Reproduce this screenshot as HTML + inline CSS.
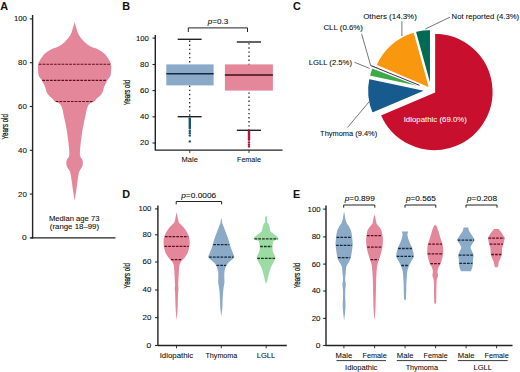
<!DOCTYPE html>
<html><head><meta charset="utf-8"><style>
html,body{margin:0;padding:0;background:#fff;width:520px;height:372px;overflow:hidden}
svg{display:block}
text{font-family:"Liberation Sans",sans-serif}
</style></head><body>
<svg width="520" height="372" viewBox="0 0 520 372">
<text x="0.30" y="10.30" font-size="10.8" text-anchor="start" fill="#111" stroke="#111" stroke-width="0.07" font-weight="bold" >A</text>
<text x="122.30" y="10.30" font-size="10.8" text-anchor="start" fill="#111" stroke="#111" stroke-width="0.07" font-weight="bold" >B</text>
<text x="292.90" y="10.30" font-size="10.8" text-anchor="start" fill="#111" stroke="#111" stroke-width="0.07" font-weight="bold" >C</text>
<text x="122.30" y="197.50" font-size="10.8" text-anchor="start" fill="#111" stroke="#111" stroke-width="0.07" font-weight="bold" >D</text>
<text x="292.90" y="197.60" font-size="10.8" text-anchor="start" fill="#111" stroke="#111" stroke-width="0.07" font-weight="bold" >E</text>
<line x1="32.6" y1="15" x2="32.6" y2="238.6" stroke="#222" stroke-width="1.4" />
<line x1="29.8" y1="18.900000000000006" x2="32.6" y2="18.900000000000006" stroke="#222" stroke-width="1.1" />
<text x="13.90" y="21.30" font-size="7.4" text-anchor="start" fill="#0a0a0a" stroke="#0a0a0a" stroke-width="0.07" font-weight="normal" textLength="12.90" lengthAdjust="spacingAndGlyphs" >100</text>
<line x1="29.8" y1="62.70000000000002" x2="32.6" y2="62.70000000000002" stroke="#222" stroke-width="1.1" />
<text x="18.00" y="65.10" font-size="7.4" text-anchor="start" fill="#0a0a0a" stroke="#0a0a0a" stroke-width="0.07" font-weight="normal" textLength="8.80" lengthAdjust="spacingAndGlyphs" >80</text>
<line x1="29.8" y1="106.5" x2="32.6" y2="106.5" stroke="#222" stroke-width="1.1" />
<text x="18.00" y="108.90" font-size="7.4" text-anchor="start" fill="#0a0a0a" stroke="#0a0a0a" stroke-width="0.07" font-weight="normal" textLength="8.80" lengthAdjust="spacingAndGlyphs" >60</text>
<line x1="29.8" y1="150.3" x2="32.6" y2="150.3" stroke="#222" stroke-width="1.1" />
<text x="18.00" y="152.70" font-size="7.4" text-anchor="start" fill="#0a0a0a" stroke="#0a0a0a" stroke-width="0.07" font-weight="normal" textLength="8.80" lengthAdjust="spacingAndGlyphs" >40</text>
<line x1="29.8" y1="194.10000000000002" x2="32.6" y2="194.10000000000002" stroke="#222" stroke-width="1.1" />
<text x="18.00" y="196.50" font-size="7.4" text-anchor="start" fill="#0a0a0a" stroke="#0a0a0a" stroke-width="0.07" font-weight="normal" textLength="8.80" lengthAdjust="spacingAndGlyphs" >20</text>
<line x1="29.8" y1="237.9" x2="32.6" y2="237.9" stroke="#222" stroke-width="1.1" />
<text x="22.10" y="240.30" font-size="7.4" text-anchor="start" fill="#0a0a0a" stroke="#0a0a0a" stroke-width="0.07" font-weight="normal" textLength="4.70" lengthAdjust="spacingAndGlyphs" >0</text>
<line x1="30.5" y1="237.9" x2="115.5" y2="237.9" stroke="#222" stroke-width="1.4" />
<text x="0" y="0" font-size="8.4" text-anchor="middle" fill="#0a0a0a" stroke="#0a0a0a" stroke-width="0.2" textLength="25.4" lengthAdjust="spacingAndGlyphs" transform="translate(8.0,126.8) rotate(-90)">Years old</text>
<path d="M74.60,21.80 L74.69,22.16 L74.82,22.67 L74.97,23.26 L75.14,23.89 L75.30,24.50 L75.47,25.11 L75.66,25.74 L75.84,26.39 L76.03,27.02 L76.20,27.60 L76.35,28.12 L76.49,28.61 L76.62,29.07 L76.76,29.53 L76.90,30.00 L77.05,30.48 L77.19,30.95 L77.35,31.43 L77.51,31.91 L77.70,32.40 L77.91,32.91 L78.14,33.44 L78.38,33.98 L78.63,34.50 L78.90,35.00 L79.18,35.46 L79.46,35.90 L79.76,36.32 L80.08,36.75 L80.40,37.20 L80.73,37.67 L81.07,38.15 L81.43,38.63 L81.80,39.12 L82.20,39.60 L82.62,40.08 L83.05,40.56 L83.51,41.03 L83.99,41.51 L84.50,42.00 L85.04,42.50 L85.61,43.00 L86.20,43.51 L86.83,44.01 L87.50,44.50 L88.22,44.99 L88.98,45.47 L89.78,45.95 L90.59,46.39 L91.40,46.80 L92.20,47.13 L93.00,47.39 L93.81,47.64 L94.67,47.92 L95.60,48.30 L96.64,48.79 L97.78,49.35 L98.95,49.97 L100.08,50.59 L101.10,51.20 L102.01,51.79 L102.85,52.39 L103.63,52.99 L104.35,53.59 L105.00,54.20 L105.57,54.81 L106.04,55.43 L106.47,56.06 L106.88,56.68 L107.30,57.30 L107.74,57.91 L108.18,58.51 L108.61,59.11 L109.02,59.74 L109.40,60.40 L109.77,61.09 L110.14,61.79 L110.48,62.53 L110.78,63.33 L111.00,64.20 L111.15,65.16 L111.23,66.21 L111.26,67.31 L111.25,68.44 L111.20,69.60 L111.14,70.82 L111.05,72.11 L110.91,73.42 L110.70,74.67 L110.40,75.80 L109.98,76.74 L109.45,77.55 L108.86,78.31 L108.23,79.12 L107.60,80.10 L106.93,81.29 L106.20,82.63 L105.46,84.04 L104.77,85.42 L104.20,86.70 L103.79,87.88 L103.50,89.01 L103.25,90.09 L102.98,91.12 L102.60,92.10 L102.09,93.03 L101.50,93.91 L100.87,94.73 L100.22,95.50 L99.60,96.20 L98.99,96.82 L98.36,97.35 L97.74,97.84 L97.14,98.31 L96.60,98.80 L96.18,99.30 L95.85,99.79 L95.53,100.28 L95.12,100.78 L94.50,101.30 L93.58,101.81 L92.43,102.31 L91.20,102.84 L90.04,103.45 L89.10,104.20 L88.41,105.12 L87.86,106.18 L87.42,107.32 L87.05,108.48 L86.70,109.60 L86.42,110.56 L86.25,111.39 L86.10,112.28 L85.91,113.42 L85.60,115.00 L85.14,117.13 L84.56,119.68 L83.94,122.48 L83.34,125.38 L82.80,128.20 L82.33,131.05 L81.88,134.05 L81.48,137.03 L81.11,139.83 L80.80,142.30 L80.55,144.39 L80.35,146.20 L80.19,147.82 L80.08,149.29 L80.00,150.70 L79.94,152.02 L79.90,153.20 L79.91,154.29 L80.00,155.31 L80.20,156.30 L80.58,157.22 L81.13,158.05 L81.72,158.85 L82.25,159.68 L82.60,160.60 L82.77,161.64 L82.85,162.75 L82.82,163.90 L82.67,165.06 L82.40,166.20 L81.93,167.25 L81.27,168.23 L80.52,169.25 L79.80,170.40 L79.20,171.80 L78.74,173.53 L78.35,175.52 L78.00,177.64 L77.69,179.75 L77.40,181.70 L77.14,183.44 L76.94,185.07 L76.75,186.67 L76.55,188.32 L76.30,190.10 L75.97,192.22 L75.58,194.62 L75.19,196.99 L74.84,199.05 L74.60,200.50 L74.60,200.50 L74.36,199.05 L74.01,196.99 L73.62,194.62 L73.23,192.22 L72.90,190.10 L72.65,188.32 L72.45,186.67 L72.26,185.07 L72.06,183.44 L71.80,181.70 L71.51,179.75 L71.20,177.64 L70.85,175.52 L70.46,173.53 L70.00,171.80 L69.40,170.40 L68.68,169.25 L67.93,168.23 L67.27,167.25 L66.80,166.20 L66.53,165.06 L66.38,163.90 L66.35,162.75 L66.43,161.64 L66.60,160.60 L66.95,159.68 L67.48,158.85 L68.07,158.05 L68.62,157.22 L69.00,156.30 L69.20,155.31 L69.29,154.29 L69.30,153.20 L69.26,152.02 L69.20,150.70 L69.12,149.29 L69.01,147.82 L68.85,146.20 L68.65,144.39 L68.40,142.30 L68.09,139.83 L67.72,137.03 L67.32,134.05 L66.87,131.05 L66.40,128.20 L65.86,125.38 L65.26,122.48 L64.64,119.68 L64.06,117.13 L63.60,115.00 L63.29,113.42 L63.10,112.28 L62.95,111.39 L62.78,110.56 L62.50,109.60 L62.15,108.48 L61.78,107.32 L61.34,106.18 L60.79,105.12 L60.10,104.20 L59.16,103.45 L58.00,102.84 L56.77,102.31 L55.62,101.81 L54.70,101.30 L54.08,100.78 L53.67,100.28 L53.35,99.79 L53.02,99.30 L52.60,98.80 L52.06,98.31 L51.46,97.84 L50.84,97.35 L50.21,96.82 L49.60,96.20 L48.98,95.50 L48.33,94.73 L47.70,93.91 L47.11,93.03 L46.60,92.10 L46.22,91.12 L45.95,90.09 L45.70,89.01 L45.41,87.88 L45.00,86.70 L44.43,85.42 L43.74,84.04 L43.00,82.63 L42.27,81.29 L41.60,80.10 L40.97,79.12 L40.34,78.31 L39.75,77.55 L39.22,76.74 L38.80,75.80 L38.50,74.67 L38.29,73.42 L38.15,72.11 L38.06,70.82 L38.00,69.60 L37.95,68.44 L37.94,67.31 L37.97,66.21 L38.05,65.16 L38.20,64.20 L38.42,63.33 L38.72,62.53 L39.06,61.79 L39.43,61.09 L39.80,60.40 L40.18,59.74 L40.59,59.11 L41.02,58.51 L41.46,57.91 L41.90,57.30 L42.32,56.68 L42.73,56.06 L43.16,55.43 L43.63,54.81 L44.20,54.20 L44.85,53.59 L45.57,52.99 L46.35,52.39 L47.19,51.79 L48.10,51.20 L49.12,50.59 L50.25,49.97 L51.42,49.35 L52.56,48.79 L53.60,48.30 L54.53,47.92 L55.39,47.64 L56.20,47.39 L57.00,47.13 L57.80,46.80 L58.61,46.39 L59.42,45.95 L60.22,45.47 L60.98,44.99 L61.70,44.50 L62.37,44.01 L63.00,43.51 L63.59,43.00 L64.16,42.50 L64.70,42.00 L65.21,41.51 L65.69,41.03 L66.15,40.56 L66.58,40.08 L67.00,39.60 L67.40,39.12 L67.77,38.63 L68.13,38.15 L68.47,37.67 L68.80,37.20 L69.12,36.75 L69.44,36.32 L69.74,35.90 L70.02,35.46 L70.30,35.00 L70.57,34.50 L70.82,33.98 L71.06,33.44 L71.29,32.91 L71.50,32.40 L71.69,31.91 L71.85,31.43 L72.01,30.95 L72.15,30.48 L72.30,30.00 L72.44,29.53 L72.58,29.07 L72.71,28.61 L72.85,28.12 L73.00,27.60 L73.17,27.02 L73.36,26.39 L73.54,25.74 L73.73,25.11 L73.90,24.50 L74.06,23.89 L74.23,23.26 L74.38,22.67 L74.51,22.16 L74.60,21.80 Z" fill="#e4879a"/>
<line x1="38.80" y1="64.20" x2="110.40" y2="64.20" stroke="#5a0e20" stroke-width="1.1" stroke-dasharray="2.7,1.1"/>
<line x1="42.35" y1="80.40" x2="106.85" y2="80.40" stroke="#5a0e20" stroke-width="1.1" stroke-dasharray="2.7,1.1"/>
<line x1="55.67" y1="101.50" x2="93.53" y2="101.50" stroke="#5a0e20" stroke-width="1.1" stroke-dasharray="2.7,1.1"/>
<text x="48.90" y="221.00" font-size="7.6" text-anchor="start" fill="#0a0a0a" stroke="#0a0a0a" stroke-width="0.07" font-weight="normal" textLength="50.60" lengthAdjust="spacingAndGlyphs" >Median age 73</text>
<text x="49.80" y="229.40" font-size="7.6" text-anchor="start" fill="#0a0a0a" stroke="#0a0a0a" stroke-width="0.07" font-weight="normal" textLength="49.30" lengthAdjust="spacingAndGlyphs" >(range 18–99)</text>
<line x1="155.3" y1="35" x2="155.3" y2="150.6" stroke="#222" stroke-width="1.4" />
<line x1="152.5" y1="38.1" x2="155.3" y2="38.1" stroke="#222" stroke-width="1.1" />
<text x="135.90" y="40.50" font-size="6.9" text-anchor="start" fill="#0a0a0a" stroke="#0a0a0a" stroke-width="0.07" font-weight="normal" textLength="12.90" lengthAdjust="spacingAndGlyphs" >100</text>
<line x1="152.5" y1="64.5" x2="155.3" y2="64.5" stroke="#222" stroke-width="1.1" />
<text x="140.00" y="66.90" font-size="6.9" text-anchor="start" fill="#0a0a0a" stroke="#0a0a0a" stroke-width="0.07" font-weight="normal" textLength="8.80" lengthAdjust="spacingAndGlyphs" >80</text>
<line x1="152.5" y1="90.6" x2="155.3" y2="90.6" stroke="#222" stroke-width="1.1" />
<text x="140.00" y="93.00" font-size="6.9" text-anchor="start" fill="#0a0a0a" stroke="#0a0a0a" stroke-width="0.07" font-weight="normal" textLength="8.80" lengthAdjust="spacingAndGlyphs" >60</text>
<line x1="152.5" y1="116.8" x2="155.3" y2="116.8" stroke="#222" stroke-width="1.1" />
<text x="140.00" y="119.20" font-size="6.9" text-anchor="start" fill="#0a0a0a" stroke="#0a0a0a" stroke-width="0.07" font-weight="normal" textLength="8.80" lengthAdjust="spacingAndGlyphs" >40</text>
<line x1="152.5" y1="143" x2="155.3" y2="143" stroke="#222" stroke-width="1.1" />
<text x="140.00" y="145.40" font-size="6.9" text-anchor="start" fill="#0a0a0a" stroke="#0a0a0a" stroke-width="0.07" font-weight="normal" textLength="8.80" lengthAdjust="spacingAndGlyphs" >20</text>
<line x1="155.3" y1="150.2" x2="282.5" y2="150.2" stroke="#222" stroke-width="1.3" />
<text x="0" y="0" font-size="8.4" text-anchor="middle" fill="#0a0a0a" stroke="#0a0a0a" stroke-width="0.2" textLength="25.4" lengthAdjust="spacingAndGlyphs" transform="translate(129.8,92.5) rotate(-90)">Years old</text>
<line x1="189.8" y1="150.2" x2="189.8" y2="153" stroke="#222" stroke-width="0.9" />
<text x="181.60" y="162.30" font-size="8.0" text-anchor="start" fill="#0a0a0a" stroke="#0a0a0a" stroke-width="0.07" font-weight="normal" textLength="16.20" lengthAdjust="spacingAndGlyphs" >Male</text>
<line x1="249" y1="150.2" x2="249" y2="153" stroke="#222" stroke-width="0.9" />
<text x="237.00" y="162.30" font-size="8.0" text-anchor="start" fill="#0a0a0a" stroke="#0a0a0a" stroke-width="0.07" font-weight="normal" textLength="23.90" lengthAdjust="spacingAndGlyphs" >Female</text>
<line x1="189.7" y1="40.5" x2="189.7" y2="116.7" stroke="#1a1a1a" stroke-width="1.25" stroke-dasharray="1.4,2.7"/>
<rect x="166.3" y="64.4" width="47.3" height="21" fill="#8aaac8"/>
<line x1="166.3" y1="73.7" x2="213.6" y2="73.7" stroke="#13283f" stroke-width="1.4" />
<line x1="177.7" y1="39.3" x2="201.6" y2="39.3" stroke="#222" stroke-width="1.4" />
<line x1="177.7" y1="116.7" x2="201.6" y2="116.7" stroke="#222" stroke-width="1.4" />
<rect x="188.6" y="117.2" width="2.4" height="12.3" rx="1.1" fill="#1c4f82"/>
<circle cx="189.8" cy="131" r="1.2" fill="#1c4f82"/>
<circle cx="189.8" cy="133.3" r="1.2" fill="#1c4f82"/>
<circle cx="189.8" cy="135.6" r="1.2" fill="#1c4f82"/>
<circle cx="189.8" cy="141.4" r="1.2" fill="#1c4f82"/>
<line x1="249" y1="43.2" x2="249" y2="130.3" stroke="#1a1a1a" stroke-width="1.25" stroke-dasharray="1.4,2.7"/>
<rect x="224.9" y="64.4" width="48" height="26.2" fill="#e4879a"/>
<line x1="224.9" y1="75" x2="272.9" y2="75" stroke="#3a1016" stroke-width="1.4" />
<line x1="236.8" y1="42" x2="261" y2="42" stroke="#222" stroke-width="1.4" />
<line x1="236.8" y1="130.3" x2="261" y2="130.3" stroke="#222" stroke-width="1.4" />
<rect x="247.8" y="130.3" width="2.4" height="10.6" rx="1.1" fill="#b8123c"/>
<circle cx="249" cy="142.4" r="1.2" fill="#b8123c"/>
<circle cx="249" cy="144.6" r="1.2" fill="#b8123c"/>
<circle cx="249" cy="146.4" r="1.2" fill="#b8123c"/>
<path d="M188.3,32 V27.9 H247.5 V32" fill="none" stroke="#222" stroke-width="1"/>
<text x="207.80" y="23.80" font-size="7.0" text-anchor="start" fill="#0a0a0a" stroke="#0a0a0a" stroke-width="0.07" font-weight="normal" textLength="20.60" lengthAdjust="spacingAndGlyphs" ><tspan font-style="italic">p</tspan>=0.3</text>
<line x1="157.9" y1="205.4" x2="157.9" y2="346.1" stroke="#222" stroke-width="1.4" />
<line x1="155.1" y1="208.9" x2="157.9" y2="208.9" stroke="#222" stroke-width="1.1" />
<text x="138.40" y="211.30" font-size="6.9" text-anchor="start" fill="#0a0a0a" stroke="#0a0a0a" stroke-width="0.07" font-weight="normal" textLength="12.90" lengthAdjust="spacingAndGlyphs" >100</text>
<line x1="155.1" y1="234.8" x2="157.9" y2="234.8" stroke="#222" stroke-width="1.1" />
<text x="142.50" y="237.20" font-size="6.9" text-anchor="start" fill="#0a0a0a" stroke="#0a0a0a" stroke-width="0.07" font-weight="normal" textLength="8.80" lengthAdjust="spacingAndGlyphs" >80</text>
<line x1="155.1" y1="262" x2="157.9" y2="262" stroke="#222" stroke-width="1.1" />
<text x="142.50" y="264.40" font-size="6.9" text-anchor="start" fill="#0a0a0a" stroke="#0a0a0a" stroke-width="0.07" font-weight="normal" textLength="8.80" lengthAdjust="spacingAndGlyphs" >60</text>
<line x1="155.1" y1="290" x2="157.9" y2="290" stroke="#222" stroke-width="1.1" />
<text x="142.50" y="292.40" font-size="6.9" text-anchor="start" fill="#0a0a0a" stroke="#0a0a0a" stroke-width="0.07" font-weight="normal" textLength="8.80" lengthAdjust="spacingAndGlyphs" >40</text>
<line x1="155.1" y1="317.6" x2="157.9" y2="317.6" stroke="#222" stroke-width="1.1" />
<text x="142.50" y="320.00" font-size="6.9" text-anchor="start" fill="#0a0a0a" stroke="#0a0a0a" stroke-width="0.07" font-weight="normal" textLength="8.80" lengthAdjust="spacingAndGlyphs" >20</text>
<line x1="155.1" y1="345.5" x2="157.9" y2="345.5" stroke="#222" stroke-width="1.1" />
<text x="146.60" y="347.90" font-size="6.9" text-anchor="start" fill="#0a0a0a" stroke="#0a0a0a" stroke-width="0.07" font-weight="normal" textLength="4.70" lengthAdjust="spacingAndGlyphs" >0</text>
<line x1="157.9" y1="345.5" x2="286.8" y2="345.5" stroke="#222" stroke-width="1.3" />
<text x="0" y="0" font-size="8.4" text-anchor="middle" fill="#0a0a0a" stroke="#0a0a0a" stroke-width="0.2" textLength="25.4" lengthAdjust="spacingAndGlyphs" transform="translate(129.6,275.7) rotate(-90)">Years old</text>
<line x1="176.5" y1="345.5" x2="176.5" y2="348.3" stroke="#222" stroke-width="0.9" />
<text x="159.70" y="357.60" font-size="8.0" text-anchor="start" fill="#0a0a0a" stroke="#0a0a0a" stroke-width="0.07" font-weight="normal" textLength="33.60" lengthAdjust="spacingAndGlyphs" >Idiopathic</text>
<line x1="221.3" y1="345.5" x2="221.3" y2="348.3" stroke="#222" stroke-width="0.9" />
<text x="205.45" y="357.60" font-size="8.0" text-anchor="start" fill="#0a0a0a" stroke="#0a0a0a" stroke-width="0.07" font-weight="normal" textLength="31.85" lengthAdjust="spacingAndGlyphs" >Thymoma</text>
<line x1="266.2" y1="345.5" x2="266.2" y2="348.3" stroke="#222" stroke-width="0.9" />
<text x="256.70" y="357.60" font-size="8.0" text-anchor="start" fill="#0a0a0a" stroke="#0a0a0a" stroke-width="0.07" font-weight="normal" textLength="18.60" lengthAdjust="spacingAndGlyphs" >LGLL</text>
<path d="M176.2,204.4 V201.5 H221.6 V204.4" fill="none" stroke="#222" stroke-width="1"/>
<text x="181.20" y="197.60" font-size="7.0" text-anchor="start" fill="#0a0a0a" stroke="#0a0a0a" stroke-width="0.07" font-weight="normal" textLength="35.00" lengthAdjust="spacingAndGlyphs" ><tspan font-style="italic">p</tspan>=0.0006</text>
<path d="M176.60,212.40 L176.65,212.61 L176.73,212.90 L176.82,213.25 L176.91,213.62 L177.00,214.00 L177.08,214.39 L177.16,214.81 L177.24,215.25 L177.32,215.68 L177.40,216.10 L177.48,216.49 L177.56,216.86 L177.64,217.24 L177.72,217.61 L177.80,218.00 L177.87,218.40 L177.94,218.81 L178.01,219.23 L178.09,219.66 L178.20,220.10 L178.32,220.57 L178.46,221.08 L178.62,221.58 L178.80,222.07 L179.00,222.50 L179.22,222.86 L179.47,223.16 L179.74,223.44 L180.04,223.74 L180.40,224.10 L180.83,224.53 L181.32,225.00 L181.85,225.49 L182.37,226.00 L182.85,226.50 L183.29,227.00 L183.72,227.50 L184.13,228.00 L184.53,228.50 L184.90,229.00 L185.26,229.49 L185.59,229.97 L185.91,230.44 L186.21,230.92 L186.50,231.40 L186.77,231.88 L187.02,232.36 L187.25,232.84 L187.48,233.32 L187.70,233.80 L187.91,234.25 L188.12,234.67 L188.32,235.10 L188.51,235.60 L188.70,236.20 L188.90,236.96 L189.11,237.84 L189.31,238.77 L189.48,239.68 L189.60,240.50 L189.66,241.21 L189.68,241.86 L189.67,242.47 L189.64,243.08 L189.60,243.70 L189.55,244.34 L189.48,244.98 L189.40,245.61 L189.31,246.25 L189.20,246.90 L189.09,247.56 L188.96,248.22 L188.82,248.88 L188.67,249.54 L188.50,250.20 L188.31,250.86 L188.11,251.52 L187.90,252.17 L187.66,252.80 L187.40,253.40 L187.11,253.96 L186.80,254.50 L186.46,255.02 L186.13,255.52 L185.80,256.00 L185.48,256.47 L185.17,256.93 L184.85,257.37 L184.53,257.79 L184.20,258.20 L183.85,258.59 L183.48,258.96 L183.10,259.32 L182.74,259.67 L182.40,260.00 L182.09,260.30 L181.80,260.57 L181.53,260.84 L181.26,261.14 L181.00,261.50 L180.74,261.94 L180.47,262.44 L180.22,262.97 L179.99,263.50 L179.80,264.00 L179.65,264.43 L179.54,264.82 L179.46,265.22 L179.38,265.69 L179.30,266.30 L179.21,267.08 L179.13,267.99 L179.05,268.98 L178.97,270.00 L178.90,271.00 L178.83,271.98 L178.77,272.98 L178.71,273.99 L178.65,275.00 L178.60,276.00 L178.55,277.01 L178.51,278.02 L178.48,279.03 L178.44,280.03 L178.40,281.00 L178.35,281.97 L178.30,282.95 L178.24,283.90 L178.21,284.80 L178.20,285.60 L178.24,286.26 L178.32,286.81 L178.41,287.31 L178.48,287.84 L178.50,288.50 L178.46,289.23 L178.39,289.98 L178.29,290.81 L178.18,291.80 L178.10,293.00 L178.03,294.49 L177.97,296.24 L177.92,298.12 L177.86,300.01 L177.80,301.80 L177.75,303.44 L177.71,305.01 L177.66,306.58 L177.60,308.22 L177.50,310.00 L177.34,312.12 L177.14,314.54 L176.92,316.95 L176.73,319.04 L176.60,320.50 L176.60,320.50 L176.47,319.04 L176.28,316.95 L176.06,314.54 L175.86,312.12 L175.70,310.00 L175.60,308.22 L175.54,306.58 L175.49,305.01 L175.45,303.44 L175.40,301.80 L175.34,300.01 L175.28,298.12 L175.23,296.24 L175.17,294.49 L175.10,293.00 L175.02,291.80 L174.91,290.81 L174.81,289.98 L174.74,289.23 L174.70,288.50 L174.72,287.84 L174.79,287.31 L174.88,286.81 L174.96,286.26 L175.00,285.60 L174.99,284.80 L174.96,283.90 L174.90,282.95 L174.85,281.97 L174.80,281.00 L174.76,280.03 L174.72,279.03 L174.69,278.02 L174.65,277.01 L174.60,276.00 L174.55,275.00 L174.49,273.99 L174.43,272.98 L174.37,271.98 L174.30,271.00 L174.23,270.00 L174.15,268.98 L174.07,267.99 L173.99,267.08 L173.90,266.30 L173.82,265.69 L173.74,265.22 L173.66,264.82 L173.55,264.43 L173.40,264.00 L173.21,263.50 L172.98,262.97 L172.73,262.44 L172.46,261.94 L172.20,261.50 L171.94,261.14 L171.67,260.84 L171.40,260.57 L171.11,260.30 L170.80,260.00 L170.46,259.67 L170.10,259.32 L169.72,258.96 L169.35,258.59 L169.00,258.20 L168.67,257.79 L168.35,257.37 L168.03,256.93 L167.72,256.47 L167.40,256.00 L167.07,255.52 L166.74,255.02 L166.40,254.50 L166.09,253.96 L165.80,253.40 L165.54,252.80 L165.30,252.17 L165.09,251.52 L164.89,250.86 L164.70,250.20 L164.53,249.54 L164.38,248.88 L164.24,248.22 L164.11,247.56 L164.00,246.90 L163.89,246.25 L163.80,245.61 L163.72,244.98 L163.65,244.34 L163.60,243.70 L163.56,243.08 L163.53,242.47 L163.52,241.86 L163.54,241.21 L163.60,240.50 L163.72,239.68 L163.89,238.77 L164.09,237.84 L164.30,236.96 L164.50,236.20 L164.69,235.60 L164.88,235.10 L165.08,234.67 L165.29,234.25 L165.50,233.80 L165.72,233.32 L165.95,232.84 L166.18,232.36 L166.43,231.88 L166.70,231.40 L166.99,230.92 L167.29,230.44 L167.61,229.97 L167.94,229.49 L168.30,229.00 L168.67,228.50 L169.07,228.00 L169.48,227.50 L169.91,227.00 L170.35,226.50 L170.83,226.00 L171.35,225.49 L171.88,225.00 L172.37,224.53 L172.80,224.10 L173.16,223.74 L173.46,223.44 L173.73,223.16 L173.98,222.86 L174.20,222.50 L174.40,222.07 L174.58,221.58 L174.74,221.08 L174.88,220.57 L175.00,220.10 L175.11,219.66 L175.19,219.23 L175.26,218.81 L175.33,218.40 L175.40,218.00 L175.48,217.61 L175.56,217.24 L175.64,216.86 L175.72,216.49 L175.80,216.10 L175.88,215.68 L175.96,215.25 L176.04,214.81 L176.12,214.39 L176.20,214.00 L176.29,213.62 L176.38,213.25 L176.47,212.90 L176.55,212.61 L176.60,212.40 Z" fill="#e4879a"/>
<line x1="164.90" y1="236.70" x2="188.30" y2="236.70" stroke="#5a0e20" stroke-width="1.3" stroke-dasharray="2.7,1.1"/>
<line x1="164.44" y1="246.40" x2="188.76" y2="246.40" stroke="#5a0e20" stroke-width="1.3" stroke-dasharray="2.7,1.1"/>
<line x1="170.90" y1="259.60" x2="182.30" y2="259.60" stroke="#5a0e20" stroke-width="1.3" stroke-dasharray="2.7,1.1"/>
<path d="M221.30,218.30 L221.37,218.53 L221.48,218.84 L221.60,219.22 L221.71,219.61 L221.80,220.00 L221.86,220.39 L221.89,220.79 L221.92,221.21 L221.95,221.61 L222.00,222.00 L222.06,222.35 L222.12,222.67 L222.19,222.98 L222.28,223.32 L222.40,223.70 L222.55,224.11 L222.73,224.54 L222.94,225.00 L223.16,225.51 L223.40,226.10 L223.67,226.78 L223.96,227.54 L224.27,228.35 L224.59,229.18 L224.90,230.00 L225.22,230.83 L225.54,231.68 L225.87,232.53 L226.19,233.38 L226.50,234.20 L226.80,235.00 L227.09,235.79 L227.38,236.56 L227.65,237.30 L227.90,238.00 L228.13,238.65 L228.34,239.27 L228.54,239.85 L228.73,240.43 L228.90,241.00 L229.05,241.57 L229.19,242.12 L229.31,242.66 L229.45,243.22 L229.60,243.80 L229.78,244.41 L229.97,245.05 L230.17,245.70 L230.38,246.35 L230.60,247.00 L230.83,247.64 L231.07,248.28 L231.31,248.92 L231.56,249.56 L231.80,250.20 L232.04,250.84 L232.28,251.48 L232.51,252.12 L232.75,252.76 L233.00,253.40 L233.29,254.06 L233.63,254.74 L233.96,255.41 L234.20,256.04 L234.30,256.60 L234.25,257.06 L234.10,257.44 L233.85,257.79 L233.51,258.16 L233.10,258.60 L232.56,259.13 L231.89,259.71 L231.16,260.33 L230.44,260.93 L229.80,261.50 L229.23,262.03 L228.68,262.54 L228.17,263.03 L227.70,263.52 L227.30,264.00 L226.98,264.46 L226.73,264.89 L226.52,265.32 L226.32,265.79 L226.10,266.30 L225.85,266.88 L225.59,267.51 L225.33,268.17 L225.10,268.84 L224.90,269.50 L224.75,270.13 L224.63,270.75 L224.54,271.37 L224.46,272.05 L224.40,272.80 L224.35,273.65 L224.32,274.57 L224.31,275.54 L224.30,276.52 L224.30,277.50 L224.32,278.47 L224.36,279.46 L224.41,280.45 L224.43,281.44 L224.40,282.40 L224.31,283.33 L224.17,284.24 L224.01,285.14 L223.85,286.05 L223.70,287.00 L223.57,287.94 L223.45,288.87 L223.33,289.83 L223.21,290.89 L223.10,292.10 L222.99,293.50 L222.88,295.05 L222.78,296.70 L222.69,298.37 L222.60,300.00 L222.54,301.59 L222.50,303.17 L222.46,304.76 L222.40,306.37 L222.30,308.00 L222.13,309.80 L221.90,311.77 L221.66,313.69 L221.45,315.34 L221.30,316.50 L221.30,316.50 L221.15,315.34 L220.94,313.69 L220.70,311.77 L220.47,309.80 L220.30,308.00 L220.20,306.37 L220.14,304.76 L220.10,303.17 L220.06,301.59 L220.00,300.00 L219.91,298.37 L219.82,296.70 L219.72,295.05 L219.61,293.50 L219.50,292.10 L219.39,290.89 L219.27,289.83 L219.15,288.87 L219.03,287.94 L218.90,287.00 L218.75,286.05 L218.59,285.14 L218.43,284.24 L218.29,283.33 L218.20,282.40 L218.17,281.44 L218.19,280.45 L218.24,279.46 L218.28,278.47 L218.30,277.50 L218.30,276.52 L218.29,275.54 L218.28,274.57 L218.25,273.65 L218.20,272.80 L218.14,272.05 L218.06,271.37 L217.97,270.75 L217.85,270.13 L217.70,269.50 L217.50,268.84 L217.27,268.17 L217.01,267.51 L216.75,266.88 L216.50,266.30 L216.28,265.79 L216.08,265.32 L215.87,264.89 L215.62,264.46 L215.30,264.00 L214.90,263.52 L214.43,263.03 L213.92,262.54 L213.37,262.03 L212.80,261.50 L212.16,260.93 L211.44,260.33 L210.71,259.71 L210.04,259.13 L209.50,258.60 L209.09,258.16 L208.75,257.79 L208.50,257.44 L208.35,257.06 L208.30,256.60 L208.40,256.04 L208.64,255.41 L208.97,254.74 L209.31,254.06 L209.60,253.40 L209.85,252.76 L210.09,252.12 L210.32,251.48 L210.56,250.84 L210.80,250.20 L211.04,249.56 L211.29,248.92 L211.53,248.28 L211.77,247.64 L212.00,247.00 L212.22,246.35 L212.43,245.70 L212.63,245.05 L212.82,244.41 L213.00,243.80 L213.15,243.22 L213.29,242.66 L213.41,242.12 L213.55,241.57 L213.70,241.00 L213.87,240.43 L214.06,239.85 L214.26,239.27 L214.47,238.65 L214.70,238.00 L214.95,237.30 L215.22,236.56 L215.51,235.79 L215.80,235.00 L216.10,234.20 L216.41,233.38 L216.73,232.53 L217.06,231.68 L217.38,230.83 L217.70,230.00 L218.01,229.18 L218.33,228.35 L218.64,227.54 L218.93,226.78 L219.20,226.10 L219.44,225.51 L219.66,225.00 L219.87,224.54 L220.05,224.11 L220.20,223.70 L220.32,223.32 L220.41,222.98 L220.48,222.67 L220.54,222.35 L220.60,222.00 L220.65,221.61 L220.68,221.21 L220.71,220.79 L220.74,220.39 L220.80,220.00 L220.89,219.61 L221.00,219.22 L221.12,218.84 L221.23,218.53 L221.30,218.30 Z" fill="#8aaac8"/>
<line x1="213.22" y1="244.70" x2="229.38" y2="244.70" stroke="#14263a" stroke-width="1.3" stroke-dasharray="2.7,1.1"/>
<line x1="209.10" y1="257.10" x2="233.50" y2="257.10" stroke="#14263a" stroke-width="1.3" stroke-dasharray="2.7,1.1"/>
<line x1="216.48" y1="265.30" x2="226.12" y2="265.30" stroke="#14263a" stroke-width="1.3" stroke-dasharray="2.7,1.1"/>
<path d="M266.10,215.60 L266.22,215.78 L266.39,216.03 L266.58,216.33 L266.77,216.66 L266.90,217.00 L266.98,217.36 L267.03,217.76 L267.06,218.17 L267.08,218.59 L267.10,219.00 L267.11,219.41 L267.10,219.82 L267.10,220.23 L267.09,220.63 L267.10,221.00 L267.11,221.35 L267.13,221.69 L267.15,222.02 L267.21,222.32 L267.30,222.60 L267.45,222.83 L267.64,223.01 L267.86,223.19 L268.09,223.40 L268.30,223.70 L268.51,224.10 L268.72,224.57 L268.93,225.08 L269.13,225.60 L269.30,226.10 L269.44,226.58 L269.56,227.06 L269.66,227.54 L269.75,228.02 L269.85,228.50 L269.93,228.99 L269.99,229.50 L270.06,230.00 L270.15,230.47 L270.30,230.90 L270.50,231.27 L270.74,231.59 L271.02,231.89 L271.34,232.19 L271.70,232.50 L272.12,232.84 L272.61,233.18 L273.12,233.52 L273.63,233.86 L274.10,234.20 L274.53,234.53 L274.94,234.85 L275.33,235.16 L275.72,235.48 L276.10,235.80 L276.49,236.12 L276.90,236.45 L277.28,236.77 L277.63,237.09 L277.90,237.40 L278.12,237.70 L278.29,237.99 L278.41,238.28 L278.45,238.55 L278.40,238.80 L278.25,239.03 L278.02,239.23 L277.70,239.42 L277.33,239.61 L276.90,239.80 L276.36,239.99 L275.70,240.18 L275.01,240.36 L274.38,240.57 L273.90,240.80 L273.59,241.06 L273.40,241.33 L273.29,241.63 L273.20,241.95 L273.10,242.30 L272.99,242.69 L272.90,243.12 L272.83,243.56 L272.76,244.03 L272.70,244.50 L272.64,244.97 L272.59,245.45 L272.55,245.95 L272.52,246.46 L272.50,247.00 L272.49,247.58 L272.49,248.19 L272.50,248.81 L272.54,249.42 L272.60,250.00 L272.70,250.54 L272.82,251.06 L272.97,251.56 L273.13,252.04 L273.30,252.50 L273.48,252.93 L273.68,253.34 L273.89,253.72 L274.10,254.11 L274.30,254.50 L274.50,254.90 L274.70,255.31 L274.90,255.71 L275.07,256.11 L275.20,256.50 L275.30,256.87 L275.37,257.24 L275.42,257.60 L275.43,257.95 L275.40,258.30 L275.33,258.63 L275.21,258.94 L275.07,259.26 L274.89,259.60 L274.70,260.00 L274.49,260.43 L274.27,260.89 L274.02,261.39 L273.73,261.95 L273.40,262.60 L272.99,263.37 L272.51,264.24 L272.01,265.16 L271.52,266.10 L271.10,267.00 L270.74,267.87 L270.43,268.73 L270.14,269.58 L269.87,270.44 L269.60,271.30 L269.34,272.16 L269.09,273.02 L268.85,273.87 L268.62,274.73 L268.40,275.60 L268.19,276.48 L268.00,277.37 L267.81,278.26 L267.62,279.14 L267.40,280.00 L267.14,280.89 L266.84,281.82 L266.54,282.71 L266.28,283.46 L266.10,284.00 L266.10,284.00 L265.92,283.46 L265.66,282.71 L265.36,281.82 L265.06,280.89 L264.80,280.00 L264.58,279.14 L264.39,278.26 L264.20,277.37 L264.01,276.48 L263.80,275.60 L263.58,274.73 L263.35,273.87 L263.11,273.02 L262.86,272.16 L262.60,271.30 L262.33,270.44 L262.06,269.58 L261.77,268.73 L261.46,267.87 L261.10,267.00 L260.68,266.10 L260.19,265.16 L259.69,264.24 L259.21,263.37 L258.80,262.60 L258.47,261.95 L258.18,261.39 L257.93,260.89 L257.71,260.43 L257.50,260.00 L257.31,259.60 L257.13,259.26 L256.99,258.94 L256.87,258.63 L256.80,258.30 L256.77,257.95 L256.78,257.60 L256.83,257.24 L256.90,256.87 L257.00,256.50 L257.13,256.11 L257.30,255.71 L257.50,255.31 L257.70,254.90 L257.90,254.50 L258.10,254.11 L258.31,253.72 L258.52,253.34 L258.72,252.93 L258.90,252.50 L259.07,252.04 L259.23,251.56 L259.38,251.06 L259.50,250.54 L259.60,250.00 L259.66,249.42 L259.70,248.81 L259.71,248.19 L259.71,247.58 L259.70,247.00 L259.68,246.46 L259.65,245.95 L259.61,245.45 L259.56,244.97 L259.50,244.50 L259.44,244.03 L259.37,243.56 L259.30,243.12 L259.21,242.69 L259.10,242.30 L259.00,241.95 L258.91,241.63 L258.80,241.33 L258.61,241.06 L258.30,240.80 L257.82,240.57 L257.19,240.36 L256.50,240.18 L255.84,239.99 L255.30,239.80 L254.87,239.61 L254.50,239.42 L254.18,239.23 L253.95,239.03 L253.80,238.80 L253.75,238.55 L253.79,238.28 L253.91,237.99 L254.08,237.70 L254.30,237.40 L254.57,237.09 L254.92,236.77 L255.30,236.45 L255.71,236.12 L256.10,235.80 L256.48,235.48 L256.87,235.16 L257.26,234.85 L257.67,234.53 L258.10,234.20 L258.57,233.86 L259.08,233.52 L259.59,233.18 L260.08,232.84 L260.50,232.50 L260.86,232.19 L261.18,231.89 L261.46,231.59 L261.70,231.27 L261.90,230.90 L262.05,230.47 L262.14,230.00 L262.21,229.50 L262.27,228.99 L262.35,228.50 L262.45,228.02 L262.54,227.54 L262.64,227.06 L262.76,226.58 L262.90,226.10 L263.07,225.60 L263.27,225.08 L263.48,224.57 L263.69,224.10 L263.90,223.70 L264.11,223.40 L264.34,223.19 L264.56,223.01 L264.75,222.83 L264.90,222.60 L264.99,222.32 L265.05,222.02 L265.07,221.69 L265.09,221.35 L265.10,221.00 L265.11,220.63 L265.10,220.23 L265.10,219.82 L265.09,219.41 L265.10,219.00 L265.12,218.59 L265.14,218.17 L265.17,217.76 L265.22,217.36 L265.30,217.00 L265.43,216.66 L265.62,216.33 L265.81,216.03 L265.98,215.78 L266.10,215.60 Z" fill="#9cdba3"/>
<line x1="254.45" y1="238.90" x2="277.75" y2="238.90" stroke="#17331c" stroke-width="1.3" stroke-dasharray="2.7,1.1"/>
<line x1="260.16" y1="246.50" x2="272.04" y2="246.50" stroke="#17331c" stroke-width="1.3" stroke-dasharray="2.7,1.1"/>
<line x1="257.30" y1="258.30" x2="274.90" y2="258.30" stroke="#17331c" stroke-width="1.3" stroke-dasharray="2.7,1.1"/>
<line x1="326" y1="205.4" x2="326" y2="346.1" stroke="#222" stroke-width="1.4" />
<line x1="323.2" y1="209.1" x2="326" y2="209.1" stroke="#222" stroke-width="1.1" />
<text x="307.60" y="211.50" font-size="6.9" text-anchor="start" fill="#0a0a0a" stroke="#0a0a0a" stroke-width="0.07" font-weight="normal" textLength="12.90" lengthAdjust="spacingAndGlyphs" >100</text>
<line x1="323.2" y1="236.9" x2="326" y2="236.9" stroke="#222" stroke-width="1.1" />
<text x="311.70" y="239.30" font-size="6.9" text-anchor="start" fill="#0a0a0a" stroke="#0a0a0a" stroke-width="0.07" font-weight="normal" textLength="8.80" lengthAdjust="spacingAndGlyphs" >80</text>
<line x1="323.2" y1="264.1" x2="326" y2="264.1" stroke="#222" stroke-width="1.1" />
<text x="311.70" y="266.50" font-size="6.9" text-anchor="start" fill="#0a0a0a" stroke="#0a0a0a" stroke-width="0.07" font-weight="normal" textLength="8.80" lengthAdjust="spacingAndGlyphs" >60</text>
<line x1="323.2" y1="291" x2="326" y2="291" stroke="#222" stroke-width="1.1" />
<text x="311.70" y="293.40" font-size="6.9" text-anchor="start" fill="#0a0a0a" stroke="#0a0a0a" stroke-width="0.07" font-weight="normal" textLength="8.80" lengthAdjust="spacingAndGlyphs" >40</text>
<line x1="323.2" y1="318.4" x2="326" y2="318.4" stroke="#222" stroke-width="1.1" />
<text x="311.70" y="320.80" font-size="6.9" text-anchor="start" fill="#0a0a0a" stroke="#0a0a0a" stroke-width="0.07" font-weight="normal" textLength="8.80" lengthAdjust="spacingAndGlyphs" >20</text>
<line x1="323.2" y1="345.5" x2="326" y2="345.5" stroke="#222" stroke-width="1.1" />
<text x="315.80" y="347.90" font-size="6.9" text-anchor="start" fill="#0a0a0a" stroke="#0a0a0a" stroke-width="0.07" font-weight="normal" textLength="4.70" lengthAdjust="spacingAndGlyphs" >0</text>
<line x1="326" y1="345.5" x2="512.5" y2="345.5" stroke="#222" stroke-width="1.3" />
<text x="0" y="0" font-size="8.4" text-anchor="middle" fill="#0a0a0a" stroke="#0a0a0a" stroke-width="0.2" textLength="25.4" lengthAdjust="spacingAndGlyphs" transform="translate(300.4,275.5) rotate(-90)">Years old</text>
<line x1="343.9" y1="345.5" x2="343.9" y2="348.3" stroke="#222" stroke-width="0.9" />
<text x="335.60" y="357.60" font-size="8.0" text-anchor="start" fill="#0a0a0a" stroke="#0a0a0a" stroke-width="0.07" font-weight="normal" textLength="16.60" lengthAdjust="spacingAndGlyphs" >Male</text>
<line x1="374.6" y1="345.5" x2="374.6" y2="348.3" stroke="#222" stroke-width="0.9" />
<text x="362.50" y="357.60" font-size="8.0" text-anchor="start" fill="#0a0a0a" stroke="#0a0a0a" stroke-width="0.07" font-weight="normal" textLength="24.20" lengthAdjust="spacingAndGlyphs" >Female</text>
<line x1="405.1" y1="345.5" x2="405.1" y2="348.3" stroke="#222" stroke-width="0.9" />
<text x="396.80" y="357.60" font-size="8.0" text-anchor="start" fill="#0a0a0a" stroke="#0a0a0a" stroke-width="0.07" font-weight="normal" textLength="16.60" lengthAdjust="spacingAndGlyphs" >Male</text>
<line x1="435.6" y1="345.5" x2="435.6" y2="348.3" stroke="#222" stroke-width="0.9" />
<text x="423.50" y="357.60" font-size="8.0" text-anchor="start" fill="#0a0a0a" stroke="#0a0a0a" stroke-width="0.07" font-weight="normal" textLength="24.20" lengthAdjust="spacingAndGlyphs" >Female</text>
<line x1="466.1" y1="345.5" x2="466.1" y2="348.3" stroke="#222" stroke-width="0.9" />
<text x="457.80" y="357.60" font-size="8.0" text-anchor="start" fill="#0a0a0a" stroke="#0a0a0a" stroke-width="0.07" font-weight="normal" textLength="16.60" lengthAdjust="spacingAndGlyphs" >Male</text>
<line x1="496.6" y1="345.5" x2="496.6" y2="348.3" stroke="#222" stroke-width="0.9" />
<text x="484.50" y="357.60" font-size="8.0" text-anchor="start" fill="#0a0a0a" stroke="#0a0a0a" stroke-width="0.07" font-weight="normal" textLength="24.20" lengthAdjust="spacingAndGlyphs" >Female</text>
<line x1="336.5" y1="360.6" x2="386" y2="360.6" stroke="#222" stroke-width="0.9" />
<text x="345.10" y="370.00" font-size="8.0" text-anchor="start" fill="#0a0a0a" stroke="#0a0a0a" stroke-width="0.07" font-weight="normal" textLength="32.30" lengthAdjust="spacingAndGlyphs" >Idiopathic</text>
<line x1="396.8" y1="360.6" x2="446.8" y2="360.6" stroke="#222" stroke-width="0.9" />
<text x="405.65" y="370.00" font-size="8.0" text-anchor="start" fill="#0a0a0a" stroke="#0a0a0a" stroke-width="0.07" font-weight="normal" textLength="32.30" lengthAdjust="spacingAndGlyphs" >Thymoma</text>
<line x1="457.8" y1="360.6" x2="507.7" y2="360.6" stroke="#222" stroke-width="0.9" />
<text x="473.45" y="370.00" font-size="8.0" text-anchor="start" fill="#0a0a0a" stroke="#0a0a0a" stroke-width="0.07" font-weight="normal" textLength="18.60" lengthAdjust="spacingAndGlyphs" >LGLL</text>
<path d="M343.7,207.7 V205 H374.8 V207.7" fill="none" stroke="#222" stroke-width="1"/>
<text x="344.75" y="200.80" font-size="7.0" text-anchor="start" fill="#0a0a0a" stroke="#0a0a0a" stroke-width="0.07" font-weight="normal" textLength="30.00" lengthAdjust="spacingAndGlyphs" ><tspan font-style="italic">p</tspan>=0.899</text>
<path d="M405,207.7 V205 H435.8 V207.7" fill="none" stroke="#222" stroke-width="1"/>
<text x="405.90" y="200.80" font-size="7.0" text-anchor="start" fill="#0a0a0a" stroke="#0a0a0a" stroke-width="0.07" font-weight="normal" textLength="30.00" lengthAdjust="spacingAndGlyphs" ><tspan font-style="italic">p</tspan>=0.565</text>
<path d="M466,207.7 V205 H497 V207.7" fill="none" stroke="#222" stroke-width="1"/>
<text x="467.00" y="200.80" font-size="7.0" text-anchor="start" fill="#0a0a0a" stroke="#0a0a0a" stroke-width="0.07" font-weight="normal" textLength="30.00" lengthAdjust="spacingAndGlyphs" ><tspan font-style="italic">p</tspan>=0.208</text>
<path d="M344.10,211.50 L344.18,211.90 L344.30,212.46 L344.44,213.13 L344.58,213.83 L344.70,214.50 L344.80,215.17 L344.90,215.87 L345.00,216.58 L345.10,217.26 L345.20,217.90 L345.31,218.48 L345.43,219.02 L345.55,219.53 L345.67,220.02 L345.80,220.50 L345.93,220.97 L346.06,221.43 L346.19,221.87 L346.34,222.29 L346.50,222.70 L346.68,223.09 L346.87,223.46 L347.07,223.82 L347.28,224.17 L347.50,224.50 L347.73,224.80 L347.96,225.08 L348.20,225.35 L348.45,225.65 L348.70,226.00 L348.96,226.42 L349.23,226.90 L349.50,227.40 L349.76,227.91 L350.00,228.40 L350.22,228.87 L350.44,229.32 L350.64,229.78 L350.82,230.27 L351.00,230.80 L351.16,231.39 L351.32,232.02 L351.46,232.67 L351.58,233.34 L351.70,234.00 L351.80,234.65 L351.88,235.29 L351.95,235.95 L352.02,236.61 L352.10,237.30 L352.18,238.00 L352.27,238.72 L352.36,239.46 L352.44,240.22 L352.50,241.00 L352.55,241.79 L352.60,242.57 L352.64,243.39 L352.64,244.29 L352.60,245.30 L352.50,246.47 L352.35,247.78 L352.18,249.16 L351.99,250.52 L351.80,251.80 L351.62,253.00 L351.44,254.18 L351.25,255.31 L351.04,256.39 L350.80,257.40 L350.53,258.33 L350.23,259.18 L349.90,259.98 L349.56,260.74 L349.20,261.50 L348.79,262.25 L348.34,262.97 L347.88,263.66 L347.46,264.34 L347.10,265.00 L346.82,265.61 L346.59,266.17 L346.40,266.73 L346.24,267.32 L346.10,268.00 L346.00,268.74 L345.95,269.50 L345.92,270.33 L345.87,271.25 L345.80,272.30 L345.66,273.54 L345.48,274.96 L345.30,276.44 L345.16,277.89 L345.10,279.20 L345.17,280.33 L345.34,281.36 L345.54,282.34 L345.71,283.30 L345.80,284.30 L345.77,285.30 L345.67,286.26 L345.53,287.25 L345.39,288.31 L345.30,289.50 L345.25,290.84 L345.21,292.31 L345.19,293.85 L345.19,295.43 L345.20,297.00 L345.25,298.58 L345.32,300.21 L345.41,301.85 L345.48,303.46 L345.50,305.00 L345.47,306.44 L345.42,307.80 L345.34,309.13 L345.23,310.51 L345.10,312.00 L344.92,313.76 L344.70,315.74 L344.46,317.70 L344.25,319.40 L344.10,320.60 L344.10,320.60 L343.95,319.40 L343.74,317.70 L343.50,315.74 L343.28,313.76 L343.10,312.00 L342.97,310.51 L342.86,309.13 L342.78,307.80 L342.73,306.44 L342.70,305.00 L342.72,303.46 L342.79,301.85 L342.88,300.21 L342.95,298.58 L343.00,297.00 L343.01,295.43 L343.01,293.85 L342.99,292.31 L342.95,290.84 L342.90,289.50 L342.81,288.31 L342.67,287.25 L342.53,286.26 L342.43,285.30 L342.40,284.30 L342.49,283.30 L342.66,282.34 L342.86,281.36 L343.03,280.33 L343.10,279.20 L343.04,277.89 L342.90,276.44 L342.72,274.96 L342.54,273.54 L342.40,272.30 L342.33,271.25 L342.28,270.33 L342.25,269.50 L342.20,268.74 L342.10,268.00 L341.96,267.32 L341.80,266.73 L341.61,266.17 L341.38,265.61 L341.10,265.00 L340.74,264.34 L340.32,263.66 L339.86,262.97 L339.41,262.25 L339.00,261.50 L338.64,260.74 L338.30,259.98 L337.97,259.18 L337.67,258.33 L337.40,257.40 L337.16,256.39 L336.95,255.31 L336.76,254.18 L336.58,253.00 L336.40,251.80 L336.21,250.52 L336.02,249.16 L335.85,247.78 L335.70,246.47 L335.60,245.30 L335.56,244.29 L335.56,243.39 L335.60,242.57 L335.65,241.79 L335.70,241.00 L335.76,240.22 L335.84,239.46 L335.93,238.72 L336.02,238.00 L336.10,237.30 L336.18,236.61 L336.25,235.95 L336.32,235.29 L336.40,234.65 L336.50,234.00 L336.62,233.34 L336.74,232.67 L336.88,232.02 L337.04,231.39 L337.20,230.80 L337.38,230.27 L337.56,229.78 L337.76,229.32 L337.98,228.87 L338.20,228.40 L338.44,227.91 L338.70,227.40 L338.97,226.90 L339.24,226.42 L339.50,226.00 L339.75,225.65 L340.00,225.35 L340.24,225.08 L340.47,224.80 L340.70,224.50 L340.92,224.17 L341.13,223.82 L341.33,223.46 L341.52,223.09 L341.70,222.70 L341.86,222.29 L342.01,221.87 L342.14,221.43 L342.27,220.97 L342.40,220.50 L342.53,220.02 L342.65,219.53 L342.77,219.02 L342.89,218.48 L343.00,217.90 L343.10,217.26 L343.20,216.58 L343.30,215.87 L343.40,215.17 L343.50,214.50 L343.62,213.83 L343.76,213.13 L343.90,212.46 L344.02,211.90 L344.10,211.50 Z" fill="#8aaac8"/>
<line x1="336.60" y1="237.30" x2="351.60" y2="237.30" stroke="#14263a" stroke-width="1.3" stroke-dasharray="2.7,1.1"/>
<line x1="336.10" y1="245.30" x2="352.10" y2="245.30" stroke="#14263a" stroke-width="1.3" stroke-dasharray="2.7,1.1"/>
<line x1="337.98" y1="257.60" x2="350.22" y2="257.60" stroke="#14263a" stroke-width="1.3" stroke-dasharray="2.7,1.1"/>
<path d="M374.50,214.50 L374.60,214.83 L374.73,215.30 L374.89,215.84 L375.06,216.43 L375.20,217.00 L375.33,217.58 L375.45,218.19 L375.57,218.81 L375.69,219.42 L375.80,220.00 L375.90,220.55 L376.00,221.08 L376.10,221.59 L376.20,222.07 L376.30,222.50 L376.40,222.88 L376.49,223.20 L376.60,223.50 L376.73,223.79 L376.90,224.10 L377.13,224.44 L377.40,224.78 L377.70,225.12 L378.01,225.46 L378.30,225.80 L378.59,226.13 L378.88,226.45 L379.17,226.76 L379.45,227.08 L379.70,227.40 L379.93,227.72 L380.14,228.04 L380.33,228.36 L380.52,228.68 L380.70,229.00 L380.88,229.31 L381.04,229.60 L381.20,229.90 L381.36,230.23 L381.50,230.60 L381.64,231.03 L381.76,231.50 L381.88,232.00 L382.00,232.51 L382.10,233.00 L382.19,233.44 L382.27,233.84 L382.35,234.26 L382.42,234.76 L382.50,235.40 L382.59,236.20 L382.70,237.11 L382.80,238.11 L382.88,239.18 L382.90,240.30 L382.87,241.48 L382.81,242.75 L382.71,244.06 L382.57,245.39 L382.40,246.70 L382.19,248.00 L381.93,249.30 L381.65,250.60 L381.33,251.90 L381.00,253.20 L380.63,254.51 L380.22,255.84 L379.80,257.15 L379.38,258.42 L379.00,259.60 L378.64,260.70 L378.28,261.74 L377.94,262.71 L377.64,263.63 L377.40,264.50 L377.23,265.28 L377.11,265.98 L377.03,266.63 L376.97,267.29 L376.90,268.00 L376.83,268.72 L376.77,269.41 L376.72,270.15 L376.66,270.99 L376.60,272.00 L376.53,273.08 L376.45,274.17 L376.36,275.45 L376.28,277.07 L376.20,279.20 L376.12,282.06 L376.04,285.53 L375.96,289.30 L375.88,293.03 L375.80,296.40 L375.73,299.40 L375.66,302.25 L375.60,304.96 L375.51,307.54 L375.40,310.00 L375.24,312.45 L375.03,314.89 L374.82,317.14 L374.63,319.04 L374.50,320.40 L374.50,320.40 L374.37,319.04 L374.18,317.14 L373.97,314.89 L373.76,312.45 L373.60,310.00 L373.49,307.54 L373.40,304.96 L373.34,302.25 L373.27,299.40 L373.20,296.40 L373.12,293.03 L373.04,289.30 L372.96,285.53 L372.88,282.06 L372.80,279.20 L372.72,277.07 L372.64,275.45 L372.55,274.17 L372.47,273.08 L372.40,272.00 L372.34,270.99 L372.28,270.15 L372.23,269.41 L372.17,268.72 L372.10,268.00 L372.03,267.29 L371.97,266.63 L371.89,265.98 L371.77,265.28 L371.60,264.50 L371.36,263.63 L371.06,262.71 L370.72,261.74 L370.36,260.70 L370.00,259.60 L369.62,258.42 L369.20,257.15 L368.78,255.84 L368.37,254.51 L368.00,253.20 L367.67,251.90 L367.35,250.60 L367.07,249.30 L366.81,248.00 L366.60,246.70 L366.43,245.39 L366.29,244.06 L366.19,242.75 L366.13,241.48 L366.10,240.30 L366.12,239.18 L366.20,238.11 L366.30,237.11 L366.41,236.20 L366.50,235.40 L366.58,234.76 L366.65,234.26 L366.73,233.84 L366.81,233.44 L366.90,233.00 L367.00,232.51 L367.12,232.00 L367.24,231.50 L367.36,231.03 L367.50,230.60 L367.64,230.23 L367.80,229.90 L367.96,229.60 L368.12,229.31 L368.30,229.00 L368.48,228.68 L368.67,228.36 L368.86,228.04 L369.07,227.72 L369.30,227.40 L369.55,227.08 L369.83,226.76 L370.12,226.45 L370.41,226.13 L370.70,225.80 L370.99,225.46 L371.30,225.12 L371.60,224.78 L371.87,224.44 L372.10,224.10 L372.27,223.79 L372.40,223.50 L372.51,223.20 L372.60,222.88 L372.70,222.50 L372.80,222.07 L372.90,221.59 L373.00,221.08 L373.10,220.55 L373.20,220.00 L373.31,219.42 L373.43,218.81 L373.55,218.19 L373.67,217.58 L373.80,217.00 L373.94,216.43 L374.11,215.84 L374.27,215.30 L374.40,214.83 L374.50,214.50 Z" fill="#e4879a"/>
<line x1="366.98" y1="235.70" x2="382.02" y2="235.70" stroke="#5a0e20" stroke-width="1.3" stroke-dasharray="2.7,1.1"/>
<line x1="367.21" y1="247.20" x2="381.79" y2="247.20" stroke="#5a0e20" stroke-width="1.3" stroke-dasharray="2.7,1.1"/>
<line x1="370.50" y1="259.60" x2="378.50" y2="259.60" stroke="#5a0e20" stroke-width="1.3" stroke-dasharray="2.7,1.1"/>
<path d="M408.30,231.60 L408.15,231.96 L407.91,232.46 L407.66,233.06 L407.47,233.75 L407.40,234.50 L407.48,235.35 L407.66,236.32 L407.91,237.35 L408.20,238.39 L408.50,239.40 L408.83,240.37 L409.20,241.35 L409.60,242.32 L410.01,243.27 L410.40,244.20 L410.79,245.04 L411.18,245.79 L411.57,246.55 L411.95,247.42 L412.30,248.50 L412.69,249.88 L413.12,251.51 L413.50,253.23 L413.76,254.88 L413.80,256.30 L413.57,257.46 L413.11,258.46 L412.53,259.35 L411.93,260.21 L411.40,261.10 L410.94,261.99 L410.49,262.85 L410.04,263.69 L409.61,264.57 L409.20,265.50 L408.80,266.47 L408.40,267.46 L408.02,268.50 L407.68,269.60 L407.40,270.80 L407.18,272.12 L407.03,273.54 L406.91,275.02 L406.80,276.52 L406.70,278.00 L406.60,279.45 L406.50,280.91 L406.42,282.38 L406.36,283.84 L406.30,285.30 L406.26,286.76 L406.25,288.22 L406.24,289.69 L406.23,291.15 L406.20,292.60 L406.15,294.16 L406.08,295.83 L406.01,297.44 L405.94,298.82 L405.90,299.80 L404.10,299.80 L404.06,298.82 L403.99,297.44 L403.92,295.83 L403.85,294.16 L403.80,292.60 L403.77,291.15 L403.76,289.69 L403.75,288.22 L403.74,286.76 L403.70,285.30 L403.64,283.84 L403.58,282.38 L403.50,280.91 L403.40,279.45 L403.30,278.00 L403.20,276.52 L403.09,275.02 L402.97,273.54 L402.82,272.12 L402.60,270.80 L402.32,269.60 L401.98,268.50 L401.60,267.46 L401.20,266.47 L400.80,265.50 L400.39,264.57 L399.96,263.69 L399.51,262.85 L399.06,261.99 L398.60,261.10 L398.07,260.21 L397.47,259.35 L396.89,258.46 L396.43,257.46 L396.20,256.30 L396.24,254.88 L396.50,253.23 L396.88,251.51 L397.31,249.88 L397.70,248.50 L398.05,247.42 L398.43,246.55 L398.82,245.79 L399.21,245.04 L399.60,244.20 L399.99,243.27 L400.40,242.32 L400.80,241.35 L401.17,240.37 L401.50,239.40 L401.80,238.39 L402.09,237.35 L402.34,236.32 L402.52,235.35 L402.60,234.50 L402.53,233.75 L402.34,233.06 L402.09,232.46 L401.85,231.96 L401.70,231.60 Z" fill="#8aaac8"/>
<line x1="398.20" y1="248.50" x2="411.80" y2="248.50" stroke="#14263a" stroke-width="1.3" stroke-dasharray="2.7,1.1"/>
<line x1="396.70" y1="256.30" x2="413.30" y2="256.30" stroke="#14263a" stroke-width="1.3" stroke-dasharray="2.7,1.1"/>
<line x1="401.30" y1="265.50" x2="408.70" y2="265.50" stroke="#14263a" stroke-width="1.3" stroke-dasharray="2.7,1.1"/>
<path d="M435.20,224.40 L435.41,224.67 L435.70,225.04 L436.04,225.48 L436.39,225.98 L436.70,226.50 L436.97,227.04 L437.23,227.62 L437.48,228.25 L437.74,228.94 L438.00,229.70 L438.27,230.56 L438.55,231.50 L438.83,232.50 L439.11,233.51 L439.40,234.50 L439.69,235.48 L439.99,236.46 L440.29,237.44 L440.59,238.42 L440.90,239.40 L441.23,240.37 L441.58,241.33 L441.93,242.28 L442.24,243.24 L442.50,244.20 L442.69,245.16 L442.84,246.12 L442.95,247.07 L443.03,248.03 L443.10,249.00 L443.15,249.98 L443.19,250.96 L443.20,251.94 L443.17,252.92 L443.10,253.90 L442.97,254.86 L442.80,255.82 L442.58,256.78 L442.35,257.74 L442.10,258.70 L441.84,259.69 L441.56,260.72 L441.26,261.73 L440.94,262.70 L440.60,263.60 L440.22,264.40 L439.79,265.13 L439.35,265.82 L438.94,266.50 L438.60,267.20 L438.32,267.93 L438.08,268.68 L437.87,269.42 L437.71,270.14 L437.60,270.80 L437.55,271.41 L437.55,271.97 L437.59,272.51 L437.65,273.01 L437.70,273.50 L437.76,273.95 L437.85,274.37 L437.94,274.77 L438.00,275.17 L438.00,275.60 L437.92,276.06 L437.79,276.53 L437.62,277.02 L437.45,277.51 L437.30,278.00 L437.17,278.42 L437.04,278.77 L436.91,279.16 L436.80,279.70 L436.70,280.50 L436.62,281.62 L436.55,282.99 L436.49,284.52 L436.44,286.11 L436.40,287.70 L436.37,289.30 L436.35,290.98 L436.34,292.68 L436.32,294.37 L436.30,296.00 L436.26,297.67 L436.22,299.42 L436.17,301.08 L436.13,302.49 L436.10,303.50 L434.30,303.50 L434.27,302.49 L434.23,301.08 L434.18,299.42 L434.14,297.67 L434.10,296.00 L434.08,294.37 L434.06,292.68 L434.05,290.98 L434.03,289.30 L434.00,287.70 L433.96,286.11 L433.91,284.52 L433.85,282.99 L433.78,281.62 L433.70,280.50 L433.60,279.70 L433.49,279.16 L433.36,278.77 L433.23,278.42 L433.10,278.00 L432.95,277.51 L432.78,277.02 L432.61,276.53 L432.48,276.06 L432.40,275.60 L432.40,275.17 L432.46,274.77 L432.55,274.37 L432.64,273.95 L432.70,273.50 L432.75,273.01 L432.81,272.51 L432.85,271.97 L432.85,271.41 L432.80,270.80 L432.69,270.14 L432.53,269.42 L432.32,268.68 L432.08,267.93 L431.80,267.20 L431.46,266.50 L431.05,265.82 L430.61,265.13 L430.18,264.40 L429.80,263.60 L429.46,262.70 L429.14,261.73 L428.84,260.72 L428.56,259.69 L428.30,258.70 L428.05,257.74 L427.82,256.78 L427.60,255.82 L427.43,254.86 L427.30,253.90 L427.23,252.92 L427.20,251.94 L427.21,250.96 L427.25,249.98 L427.30,249.00 L427.37,248.03 L427.45,247.07 L427.56,246.12 L427.71,245.16 L427.90,244.20 L428.16,243.24 L428.47,242.28 L428.82,241.33 L429.17,240.37 L429.50,239.40 L429.81,238.42 L430.11,237.44 L430.41,236.46 L430.71,235.48 L431.00,234.50 L431.29,233.51 L431.57,232.50 L431.85,231.50 L432.13,230.56 L432.40,229.70 L432.66,228.94 L432.92,228.25 L433.17,227.62 L433.43,227.04 L433.70,226.50 L434.01,225.98 L434.36,225.48 L434.70,225.04 L434.99,224.67 L435.20,224.40 Z" fill="#e4879a"/>
<line x1="428.40" y1="244.20" x2="442.00" y2="244.20" stroke="#5a0e20" stroke-width="1.3" stroke-dasharray="2.7,1.1"/>
<line x1="427.80" y1="253.90" x2="442.60" y2="253.90" stroke="#5a0e20" stroke-width="1.3" stroke-dasharray="2.7,1.1"/>
<line x1="430.30" y1="263.60" x2="440.10" y2="263.60" stroke="#5a0e20" stroke-width="1.3" stroke-dasharray="2.7,1.1"/>
<path d="M468.20,227.50 L468.29,227.94 L468.41,228.56 L468.57,229.29 L468.76,230.03 L469.00,230.70 L469.29,231.30 L469.64,231.88 L470.02,232.45 L470.42,233.02 L470.80,233.60 L471.18,234.17 L471.56,234.73 L471.94,235.29 L472.32,235.88 L472.70,236.50 L473.13,237.17 L473.62,237.88 L474.07,238.62 L474.40,239.36 L474.50,240.10 L474.31,240.84 L473.89,241.58 L473.34,242.32 L472.78,243.06 L472.30,243.80 L471.86,244.53 L471.40,245.25 L470.97,245.96 L470.65,246.68 L470.50,247.40 L470.57,248.11 L470.82,248.82 L471.17,249.52 L471.56,250.25 L471.90,251.00 L472.24,251.78 L472.63,252.58 L473.00,253.40 L473.31,254.24 L473.50,255.10 L473.53,256.00 L473.43,256.95 L473.27,257.90 L473.11,258.83 L473.00,259.70 L472.96,260.49 L472.96,261.22 L472.96,261.92 L472.95,262.64 L472.90,263.40 L472.81,264.23 L472.70,265.11 L472.57,266.00 L472.40,266.88 L472.20,267.70 L471.93,268.52 L471.59,269.36 L471.23,270.15 L470.92,270.82 L470.70,271.30 L461.10,271.30 L460.88,270.82 L460.57,270.15 L460.21,269.36 L459.87,268.52 L459.60,267.70 L459.40,266.88 L459.23,266.00 L459.10,265.11 L458.99,264.23 L458.90,263.40 L458.85,262.64 L458.84,261.92 L458.84,261.22 L458.84,260.49 L458.80,259.70 L458.69,258.83 L458.53,257.90 L458.37,256.95 L458.27,256.00 L458.30,255.10 L458.49,254.24 L458.80,253.40 L459.17,252.58 L459.56,251.78 L459.90,251.00 L460.24,250.25 L460.63,249.52 L460.98,248.82 L461.23,248.11 L461.30,247.40 L461.15,246.68 L460.83,245.96 L460.40,245.25 L459.94,244.53 L459.50,243.80 L459.02,243.06 L458.46,242.32 L457.91,241.58 L457.49,240.84 L457.30,240.10 L457.40,239.36 L457.73,238.62 L458.18,237.88 L458.67,237.17 L459.10,236.50 L459.48,235.88 L459.86,235.29 L460.24,234.73 L460.62,234.17 L461.00,233.60 L461.38,233.02 L461.78,232.45 L462.16,231.88 L462.51,231.30 L462.80,230.70 L463.04,230.03 L463.23,229.29 L463.39,228.56 L463.51,227.94 L463.60,227.50 Z" fill="#8aaac8"/>
<line x1="457.80" y1="240.10" x2="474.00" y2="240.10" stroke="#14263a" stroke-width="1.3" stroke-dasharray="2.7,1.1"/>
<line x1="458.80" y1="255.10" x2="473.00" y2="255.10" stroke="#14263a" stroke-width="1.3" stroke-dasharray="2.7,1.1"/>
<line x1="459.40" y1="263.40" x2="472.40" y2="263.40" stroke="#14263a" stroke-width="1.3" stroke-dasharray="2.7,1.1"/>
<path d="M498.60,229.10 L498.81,229.35 L499.11,229.69 L499.46,230.10 L499.84,230.54 L500.20,231.00 L500.57,231.48 L500.95,231.99 L501.35,232.53 L501.73,233.07 L502.10,233.60 L502.45,234.13 L502.80,234.67 L503.12,235.21 L503.43,235.72 L503.70,236.20 L503.95,236.61 L504.17,236.98 L504.37,237.32 L504.51,237.69 L504.60,238.10 L504.61,238.56 L504.55,239.05 L504.45,239.56 L504.33,240.11 L504.20,240.70 L504.07,241.34 L503.93,242.03 L503.77,242.75 L503.59,243.48 L503.40,244.20 L503.17,244.92 L502.90,245.65 L502.63,246.38 L502.38,247.10 L502.20,247.80 L502.10,248.46 L502.05,249.09 L502.03,249.72 L502.02,250.35 L502.00,251.00 L501.98,251.68 L501.97,252.37 L501.95,253.08 L501.90,253.79 L501.80,254.50 L501.63,255.21 L501.42,255.92 L501.16,256.63 L500.89,257.36 L500.60,258.10 L500.28,258.86 L499.91,259.64 L499.54,260.43 L499.19,261.22 L498.90,262.00 L498.68,262.82 L498.51,263.68 L498.36,264.53 L498.23,265.29 L498.10,265.90 L497.96,266.35 L497.82,266.67 L497.69,266.90 L497.58,267.06 L497.50,267.20 L495.10,267.20 L495.02,267.06 L494.91,266.90 L494.78,266.67 L494.64,266.35 L494.50,265.90 L494.37,265.29 L494.24,264.53 L494.09,263.68 L493.92,262.82 L493.70,262.00 L493.41,261.22 L493.06,260.43 L492.69,259.64 L492.32,258.86 L492.00,258.10 L491.71,257.36 L491.44,256.63 L491.18,255.92 L490.97,255.21 L490.80,254.50 L490.70,253.79 L490.65,253.08 L490.63,252.37 L490.62,251.68 L490.60,251.00 L490.58,250.35 L490.57,249.72 L490.55,249.09 L490.50,248.46 L490.40,247.80 L490.22,247.10 L489.97,246.38 L489.70,245.65 L489.43,244.92 L489.20,244.20 L489.01,243.48 L488.83,242.75 L488.67,242.03 L488.53,241.34 L488.40,240.70 L488.27,240.11 L488.15,239.56 L488.05,239.05 L487.99,238.56 L488.00,238.10 L488.09,237.69 L488.23,237.32 L488.43,236.98 L488.65,236.61 L488.90,236.20 L489.17,235.72 L489.48,235.21 L489.80,234.67 L490.15,234.13 L490.50,233.60 L490.87,233.07 L491.25,232.53 L491.65,231.99 L492.03,231.48 L492.40,231.00 L492.76,230.54 L493.14,230.10 L493.49,229.69 L493.79,229.35 L494.00,229.10 Z" fill="#e4879a"/>
<line x1="488.50" y1="238.10" x2="504.10" y2="238.10" stroke="#5a0e20" stroke-width="1.3" stroke-dasharray="2.7,1.1"/>
<line x1="489.70" y1="244.20" x2="502.90" y2="244.20" stroke="#5a0e20" stroke-width="1.3" stroke-dasharray="2.7,1.1"/>
<line x1="491.30" y1="254.50" x2="501.30" y2="254.50" stroke="#5a0e20" stroke-width="1.3" stroke-dasharray="2.7,1.1"/>
<path d="M434.34,91.90 L434.34,32.90 A59.0,59.0 0 1 1 380.07,115.05 Z" fill="#c8102e" stroke="#fff" stroke-width="1.6" stroke-linejoin="miter"/>
<path d="M426.32,90.45 L372.05,113.59 A59.0,59.0 0 0 1 368.60,78.22 Z" fill="#165a8e" stroke="#fff" stroke-width="1.6" stroke-linejoin="miter"/>
<path d="M426.88,88.48 L369.16,76.26 A59.0,59.0 0 0 1 371.78,67.39 Z" fill="#3daa4a" stroke="#fff" stroke-width="1.6" stroke-linejoin="miter"/>
<path d="M425.90,87.64 L370.80,66.54 A59.0,59.0 0 0 1 371.64,64.48 Z" fill="#5a2a6a" stroke="#fff" stroke-width="1.6" stroke-linejoin="miter"/>
<path d="M429.95,88.50 L375.68,65.34 A59.0,59.0 0 0 1 414.22,31.63 Z" fill="#f9970f" stroke="#fff" stroke-width="1.6" stroke-linejoin="miter"/>
<path d="M430.78,88.11 L415.06,31.25 A59.0,59.0 0 0 1 430.78,29.11 Z" fill="#006b55" stroke="#fff" stroke-width="1.6" stroke-linejoin="miter"/>
<line x1="370.6" y1="65.5" x2="419.5" y2="85.3" stroke="#4b2c5e" stroke-width="1.0" />
<line x1="401.9" y1="21.3" x2="401.9" y2="36" stroke="#4a4a4a" stroke-width="0.75" />
<line x1="450" y1="17.2" x2="425.3" y2="29" stroke="#4a4a4a" stroke-width="0.75" />
<line x1="361.6" y1="33.8" x2="370.7" y2="65.6" stroke="#4a4a4a" stroke-width="0.75" />
<line x1="354.5" y1="62.3" x2="369.6" y2="68.4" stroke="#4a4a4a" stroke-width="0.75" />
<line x1="347.5" y1="127.5" x2="369.5" y2="101.3" stroke="#4a4a4a" stroke-width="0.75" />
<text x="363.20" y="19.00" font-size="8.0" text-anchor="start" fill="#0a0a0a" stroke="#0a0a0a" stroke-width="0.07" font-weight="normal" textLength="53.60" lengthAdjust="spacingAndGlyphs" >Others (14.3%)</text>
<text x="451.60" y="18.80" font-size="8.0" text-anchor="start" fill="#0a0a0a" stroke="#0a0a0a" stroke-width="0.07" font-weight="normal" textLength="67.60" lengthAdjust="spacingAndGlyphs" >Not reported (4.3%)</text>
<text x="323.40" y="30.30" font-size="8.0" text-anchor="start" fill="#0a0a0a" stroke="#0a0a0a" stroke-width="0.07" font-weight="normal" textLength="39.60" lengthAdjust="spacingAndGlyphs" >CLL (0.6%)</text>
<text x="308.70" y="64.50" font-size="8.0" text-anchor="start" fill="#0a0a0a" stroke="#0a0a0a" stroke-width="0.07" font-weight="normal" textLength="43.30" lengthAdjust="spacingAndGlyphs" >LGLL (2.5%)</text>
<text x="320.10" y="135.50" font-size="8.0" text-anchor="start" fill="#0a0a0a" stroke="#0a0a0a" stroke-width="0.07" font-weight="normal" textLength="57.10" lengthAdjust="spacingAndGlyphs" >Thymoma (9.4%)</text>
<text x="403.70" y="122.10" font-size="8.0" text-anchor="start" fill="#fff" stroke="#fff" stroke-width="0.04" font-weight="normal" textLength="63.20" lengthAdjust="spacingAndGlyphs" >Idiopathic (69.0%)</text>
</svg>
</body></html>
